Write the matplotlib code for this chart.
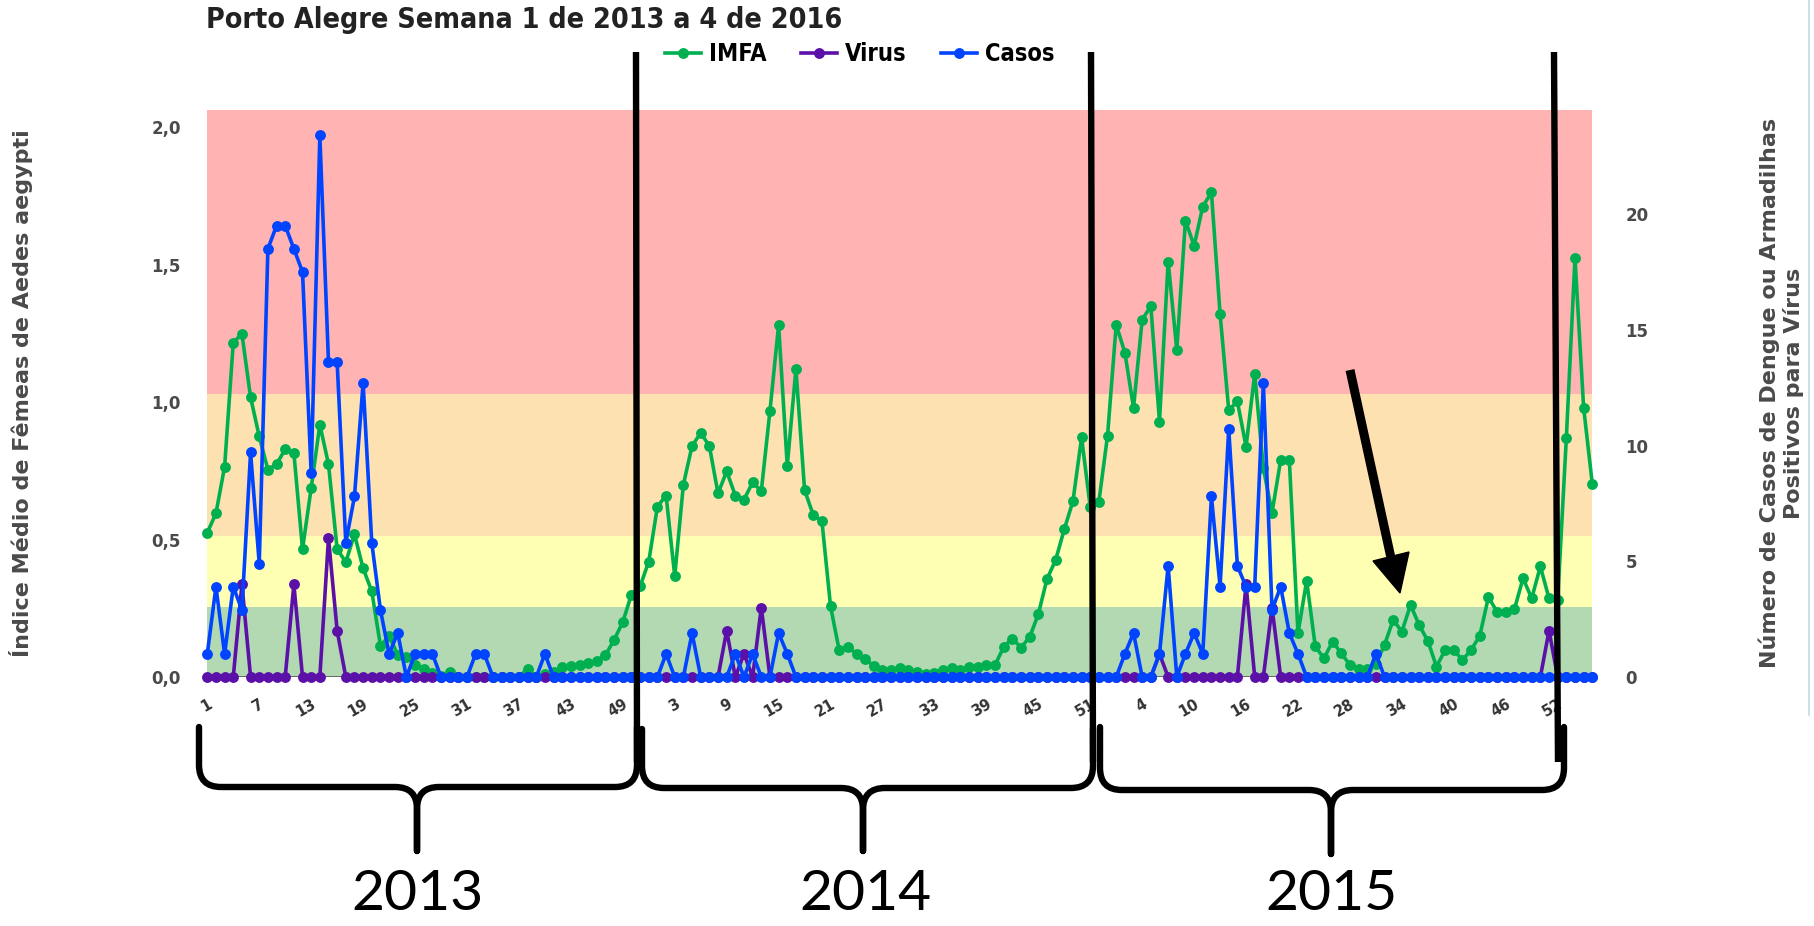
import matplotlib
matplotlib.use('Agg')
import matplotlib.pyplot as plt
from matplotlib.path import Path
from matplotlib.patches import PathPatch, Polygon
from matplotlib.lines import Line2D

# ---------------- data ----------------
weeks_2013 = list(range(1, 53))
weeks_2014 = list(range(1, 54))
weeks_2015 = list(range(1, 53))
weeks_2016 = list(range(1, 5))
week_labels = weeks_2013 + weeks_2014 + weeks_2015 + weeks_2016

imfa_2013 = [0.525, 0.595, 0.765, 1.216, 1.248, 1.017, 0.875, 0.754, 0.774, 0.828,
             0.815, 0.465, 0.687, 0.918, 0.774, 0.465, 0.418, 0.519, 0.395, 0.312,
             0.114, 0.148, 0.081, 0.074, 0.044, 0.030, 0.015, 0.005, 0.020, 0.0,
             0.0, 0.0, 0.0, 0.0, 0.0, 0.0, 0.0, 0.030, 0.0, 0.010,
             0.020, 0.035, 0.040, 0.045, 0.050, 0.060, 0.080, 0.135, 0.200, 0.300,
             0.330, 0.420]
imfa_2014 = [0.620, 0.660, 0.367, 0.700, 0.840, 0.888, 0.840, 0.668, 0.748, 0.660,
             0.645, 0.708, 0.676, 0.968, 1.280, 0.768, 1.120, 0.680, 0.589, 0.568,
             0.257, 0.097, 0.109, 0.085, 0.066, 0.039, 0.025, 0.025, 0.034, 0.025,
             0.018, 0.012, 0.015, 0.025, 0.034, 0.025, 0.037, 0.037, 0.043, 0.043,
             0.109, 0.140, 0.107, 0.145, 0.228, 0.356, 0.425, 0.537, 0.639, 0.871,
             0.618, 0.638, 0.878]
imfa_2015 = [1.281, 1.180, 0.979, 1.299, 1.349, 0.929, 1.511, 1.190, 1.660, 1.568,
             1.711, 1.762, 1.320, 0.971, 1.002, 0.838, 1.102, 0.759, 0.597, 0.789,
             0.789, 0.159, 0.350, 0.111, 0.068, 0.129, 0.086, 0.044, 0.029, 0.029,
             0.049, 0.117, 0.208, 0.165, 0.262, 0.189, 0.131, 0.038, 0.098, 0.098,
             0.062, 0.098, 0.150, 0.290, 0.237, 0.237, 0.246, 0.359, 0.286, 0.402,
             0.286, 0.280]
imfa_2016 = [0.868, 1.523, 0.979, 0.702]

virus_2013 = [0, 0, 0, 0, 4, 0, 0, 0, 0, 0,
              4, 0, 0, 0, 6, 2, 0, 0, 0, 0,
              0, 0, 0, 0, 0, 0, 0, 0, 0, 0,
              0, 0, 0, 0, 0, 0, 0, 0, 0, 0,
              0, 0, 0, 0, 0, 0, 0, 0, 0, 0,
              0, 0]
virus_2014 = [0, 0, 0, 0, 0, 0, 0, 0, 2, 0,
              1, 0, 3, 0, 0, 0, 0, 0, 0, 0,
              0, 0, 0, 0, 0, 0, 0, 0, 0, 0,
              0, 0, 0, 0, 0, 0, 0, 0, 0, 0,
              0, 0, 0, 0, 0, 0, 0, 0, 0, 0,
              0, 0, 0]
virus_2015 = [0, 0, 0, 0, 0, 1, 0, 0, 0, 0,
              0, 0, 0, 0, 0, 4, 0, 0, 3, 0,
              0, 0, 0, 0, 0, 0, 0, 0, 0, 0,
              0, 0, 0, 0, 0, 0, 0, 0, 0, 0,
              0, 0, 0, 0, 0, 0, 0, 0, 0, 0,
              2, 0]
virus_2016 = [0, 0, 0, 0]

casos_2013 = [1.0, 3.9, 1.0, 3.9, 2.9, 9.7, 4.9, 18.5, 19.5, 19.5,
              18.5, 17.5, 8.8, 23.4, 13.6, 13.6, 5.8, 7.8, 12.7, 5.8,
              2.9, 1.0, 1.9, 0, 1.0, 1.0, 1.0, 0, 0, 0,
              0, 1.0, 1.0, 0, 0, 0, 0, 0, 0, 1.0,
              0, 0, 0, 0, 0, 0, 0, 0, 0, 0,
              0, 0]
casos_2014 = [0, 1.0, 0, 0, 1.9, 0, 0, 0, 0, 1.0,
              0, 1.0, 0, 0, 1.9, 1.0, 0, 0, 0, 0,
              0, 0, 0, 0, 0, 0, 0, 0, 0, 0,
              0, 0, 0, 0, 0, 0, 0, 0, 0, 0,
              0, 0, 0, 0, 0, 0, 0, 0, 0, 0,
              0, 0, 0]
casos_2015 = [0, 1.0, 1.9, 0, 0, 1.0, 4.8, 0, 1.0, 1.9,
              1.0, 7.8, 3.9, 10.7, 4.8, 3.9, 3.9, 12.7, 2.9, 3.9,
              1.9, 1.0, 0, 0, 0, 0, 0, 0, 0, 0,
              1.0, 0, 0, 0, 0, 0, 0, 0, 0, 0,
              0, 0, 0, 0, 0, 0, 0, 0, 0, 0,
              0, 0]
casos_2016 = [0, 0, 0, 0]

imfa = imfa_2013 + imfa_2014 + imfa_2015 + imfa_2016
virus = virus_2013 + virus_2014 + virus_2015 + virus_2016
casos = casos_2013 + casos_2014 + casos_2015 + casos_2016

left_ticks = [0.0, 0.5, 1.0, 1.5, 2.0]
left_ticklabels = ['0,0', '0,5', '1,0', '1,5', '2,0']
right_ticks = [0, 5, 10, 15, 20]
band_limits = [0.0, 0.255, 0.512, 1.028, 2.062]
band_colors = ['#b3d9b3', '#ffffb3', '#fde1b0', '#ffb3b3']
year_names = ['2013', '2014', '2015']

# ---------------- styling ----------------
W, H = 1814, 926
C_IMFA = '#00b050'
C_VIRUS = '#5b10a8'
C_CASOS = '#0044ff'
TXT = '#4a4a4a'

fig = plt.figure(figsize=(W / 100, H / 100), dpi=100)
fig.patch.set_facecolor('white')

x0_px, x1_px = 207.3, 1592.3
y0_px, ytop_px = 677.0, 110.0
ax = fig.add_axes([x0_px / W, 1 - y0_px / H, (x1_px - x0_px) / W, (y0_px - ytop_px) / H])
ymax = band_limits[-1]
kratio = 11.88
ax.set_xlim(0, len(imfa) - 1)
ax.set_ylim(0, ymax)

for lo, hi, c in zip(band_limits[:-1], band_limits[1:], band_colors):
    ax.axhspan(lo, hi, color=c, lw=0, zorder=0)
ax.axhline(0, color='#555555', lw=1.2, zorder=1)

xs = list(range(len(imfa)))
ax.plot(xs, imfa, color=C_IMFA, lw=2.6, marker='o', ms=6.8, mec=C_IMFA,
        clip_on=False, zorder=3)

ax2 = ax.twinx()
ax2.set_ylim(0, ymax * kratio)
ax2.plot(xs, virus, color=C_VIRUS, lw=2.6, marker='o', ms=6.8, mec=C_VIRUS,
         clip_on=False, zorder=3)
ax2.plot(xs, casos, color=C_CASOS, lw=2.6, marker='o', ms=6.8, mec=C_CASOS,
         clip_on=False, zorder=4)

for a in (ax, ax2):
    for s in a.spines.values():
        s.set_visible(False)

ax.set_yticks(left_ticks)
ax.set_yticklabels(left_ticklabels)
ax.tick_params(axis='y', length=0, pad=19, labelsize=12, labelcolor=TXT)
for t in ax.get_yticklabels():
    t.set_fontweight('bold')

ax2.set_yticks(right_ticks)
ax2.set_yticklabels([str(v) for v in right_ticks])
ax2.tick_params(axis='y', length=0, pad=24, labelsize=12, labelcolor=TXT)
for t in ax2.get_yticklabels():
    t.set_fontweight('bold')

xt = xs[::6]
ax.set_xticks(xt)
ax.set_xticklabels([str(week_labels[i]) for i in xt], rotation=30, ha='right',
                   rotation_mode='anchor', fontweight='bold', color='#333333')
ax.tick_params(axis='x', length=0, pad=14, labelsize=10.5)

# axis titles
fig.text(21 / W, 1 - 393 / H, 'Índice Médio de Fêmeas de Aedes aegypti', rotation=90,
         ha='center', va='center', fontsize=16, fontweight='bold', color=TXT)
fig.text(1781 / W, 1 - 393 / H, 'Número de Casos de Dengue ou Armadilhas\nPositivos para Vírus',
         rotation=90, ha='center', va='center', fontsize=16, fontweight='bold', color=TXT,
         multialignment='center', linespacing=1.15)

# title
fig.text(206 / W, 1 - 20 / H, 'Porto Alegre Semana 1 de 2013 a 4 de 2016', ha='left', va='center',
         fontsize=20.5, fontweight='bold', family='DejaVu Sans', fontstretch='condensed',
         color='#222222')

# legend
handles = [Line2D([0], [0], color=C_IMFA, lw=2.6, marker='o', ms=6.8),
           Line2D([0], [0], color=C_VIRUS, lw=2.6, marker='o', ms=6.8),
           Line2D([0], [0], color=C_CASOS, lw=2.6, marker='o', ms=6.8)]
fig.legend(handles, ['IMFA', 'Virus', 'Casos'], loc='center', ncol=3,
           bbox_to_anchor=(860 / W, 1 - 54 / H), frameon=False, handlelength=1.5,
           columnspacing=1.47, handletextpad=0.35,
           prop={'family': 'DejaVu Sans', 'stretch': 'condensed', 'weight': 'bold', 'size': 17})

# ---------------- annotations (figure pixel overlay) ----------------
ov = fig.add_axes([0, 0, 1, 1], zorder=10)
ov.set_xlim(0, W)
ov.set_ylim(H, 0)
ov.axis('off')
ov.patch.set_alpha(0)

# right border line
ov.plot([1809, 1809], [0, 715], color='#c5d9e6', lw=1.2)

# black vertical lines
for (xa, xb) in [(636, 637), (1091, 1093), (1554, 1558)]:
    ov.plot([xa, xb], [52, 762], color='black', lw=4.6, solid_capstyle='butt')

def brace(x0, x1, xm, ytop, yh, ytip, r=22):
    verts = [(x0, ytop), (x0, yh - r), (x0, yh), (x0 + r, yh),
             (xm - r, yh), (xm, yh), (xm, yh + r), (xm, ytip),
             (xm, yh + r), (xm, yh), (xm + r, yh),
             (x1 - r, yh), (x1, yh), (x1, yh - r), (x1, ytop)]
    codes = [Path.MOVETO, Path.LINETO, Path.CURVE3, Path.CURVE3,
             Path.LINETO, Path.CURVE3, Path.CURVE3, Path.LINETO,
             Path.LINETO, Path.CURVE3, Path.CURVE3,
             Path.LINETO, Path.CURVE3, Path.CURVE3, Path.LINETO]
    ov.add_patch(PathPatch(Path(verts, codes), fill=False, lw=4.6, ec='black',
                           capstyle='round', joinstyle='round'))

brace(199, 637, 417, 727, 787, 851)
brace(642, 1093, 863, 729, 788, 851)
brace(1100, 1564, 1331, 727, 790, 854)

for name, xc in zip(year_names, [417, 865, 1331]):
    ov.text(xc, 895, name, ha='center', va='center', fontsize=41, family=['Lato', 'DejaVu Sans'],
            color='black')

# arrow
ov.plot([1350, 1391], [370, 558], color='black', lw=6.5, solid_capstyle='butt')
ov.add_patch(Polygon([(1373, 561), (1409, 552), (1400, 593)], closed=True, color='black'))

fig.savefig('out.png', dpi=100, facecolor='white')
